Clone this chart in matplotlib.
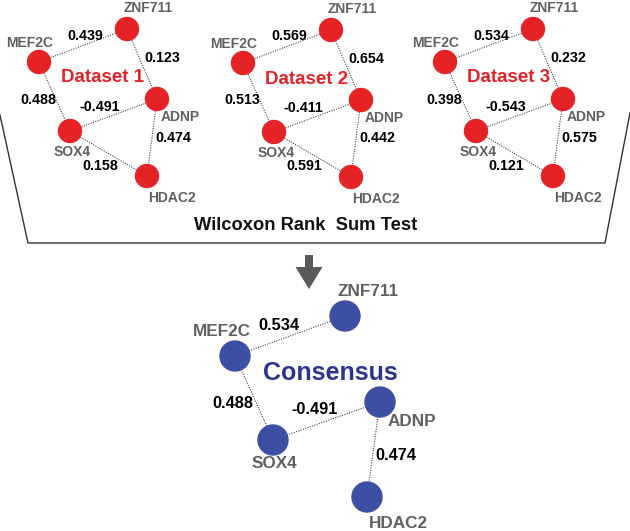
import matplotlib
matplotlib.use('Agg')
import matplotlib.pyplot as plt
from matplotlib.patches import Circle, FancyArrow

# ============== データ ==============
GENES = ['MEF2C', 'ZNF711', 'ADNP', 'SOX4', 'HDAC2']
EDGES = [('MEF2C', 'ZNF711'), ('ZNF711', 'ADNP'), ('MEF2C', 'SOX4'),
         ('SOX4', 'ADNP'), ('ADNP', 'HDAC2'), ('SOX4', 'HDAC2')]
DATASET_NAMES = ['Dataset 1', 'Dataset 2', 'Dataset 3']
DATASET1 = [0.439, 0.123, 0.488, -0.491, 0.474, 0.158]
DATASET2 = [0.569, 0.654, 0.513, -0.411, 0.442, 0.591]
DATASET3 = [0.534, 0.232, 0.398, -0.543, 0.575, 0.121]

CONSENSUS_EDGES = [('MEF2C', 'ZNF711'), ('MEF2C', 'SOX4'),
                   ('SOX4', 'ADNP'), ('ADNP', 'HDAC2')]
CONSENSUS = [0.534, 0.488, -0.491, 0.474]
TEST_NAME = 'Wilcoxon Rank  Sum Test'

# ============== レイアウト（ピクセル座標） ==============
W, H = 630, 531
NODE_POS = {'MEF2C': (39, 62), 'ZNF711': (127, 29), 'ADNP': (157, 99),
            'SOX4': (70, 131), 'HDAC2': (147, 176)}
NAME_OFFSET = {'MEF2C': (-9, -19), 'ZNF711': (21, -21), 'ADNP': (23, 18),
               'SOX4': (2, 21), 'HDAC2': (25, 22)}
EDGE_LABEL_OFFSET = [(2, -10), (20, -6), (-16, 3), (-14, -8), (21, 0), (-8, 12)]
PANEL_SHIFT = [(0, 0), (204, 1), (406, 0)]
TITLE_POS = (103, 78)

C_NODE_POS = {'MEF2C': (235, 356), 'ZNF711': (345, 316), 'ADNP': (380, 402),
              'SOX4': (273, 440), 'HDAC2': (367, 497)}
C_NAME_OFFSET = {'MEF2C': (-13, -24), 'ZNF711': (23, -25), 'ADNP': (32, 20),
                 'SOX4': (1, 24), 'HDAC2': (31, 26)}
C_EDGE_LABEL_POS = [(279, 325), (233, 403), (315, 409), (396, 456)]

RED = '#e52226'
BLUE = '#3d4fa2'
GRAY = '#606060'
SANS = ['Liberation Sans', 'DejaVu Sans']


def draw_edge(ax, p, q):
    ax.plot([p[0], q[0]], [p[1], q[1]], color='#444444', lw=0.8,
            ls=(0, (1, 1.2)), zorder=1)


def draw_panel(ax, values, shift, title):
    dx, dy = shift
    pos = {g: (x + dx, y + dy) for g, (x, y) in NODE_POS.items()}
    for (a, b), v, (ox, oy) in zip(EDGES, values, EDGE_LABEL_OFFSET):
        draw_edge(ax, pos[a], pos[b])
        mx = (pos[a][0] + pos[b][0]) / 2 + ox
        my = (pos[a][1] + pos[b][1]) / 2 + oy
        ax.text(mx, my, f'{v:.3f}', ha='center', va='center', fontsize=10.3,
                fontweight='bold', family=SANS, color='black', zorder=3)
    for g in GENES:
        x, y = pos[g]
        ax.add_patch(Circle((x, y), 11.5, color=RED, zorder=2))
        ox, oy = NAME_OFFSET[g]
        ax.text(x + ox, y + oy, g, ha='center', va='center', fontsize=10,
                fontweight='bold', family=SANS, color=GRAY, zorder=3)
    ax.text(TITLE_POS[0] + dx, TITLE_POS[1] + dy, title, ha='center', va='center',
            fontsize=13.5, fontweight='bold', family=SANS, color=RED, zorder=3)


def draw_consensus(ax):
    pos = C_NODE_POS
    for (a, b), v, (lx, ly) in zip(CONSENSUS_EDGES, CONSENSUS, C_EDGE_LABEL_POS):
        draw_edge(ax, pos[a], pos[b])
        ax.text(lx, ly, f'{v:.3f}', ha='center', va='center', fontsize=11.8,
                fontweight='bold', family=SANS, color='black', zorder=3)
    for g in GENES:
        x, y = pos[g]
        ax.add_patch(Circle((x, y), 15, color=BLUE, zorder=2))
        ox, oy = C_NAME_OFFSET[g]
        ax.text(x + ox, y + oy, g, ha='center', va='center', fontsize=12.3,
                fontweight='bold', family=SANS, color=GRAY, zorder=3)
    ax.text(330, 373, 'Consensus', ha='center', va='center', fontsize=18,
            fontweight='bold', family=SANS, color='#2b3590', zorder=3)


def main():
    fig = plt.figure(figsize=(W / 100, H / 100), dpi=100)
    ax = fig.add_axes([0, 0, 1, 1])
    ax.set_xlim(0, W)
    ax.set_ylim(H, 0)
    ax.set_aspect('equal')
    ax.axis('off')

    for values, shift, title in zip([DATASET1, DATASET2, DATASET3], PANEL_SHIFT, DATASET_NAMES):
        draw_panel(ax, values, shift, title)

    # 台形の枠
    ax.plot([0, 28, 605, 630], [115, 243, 243, 113], color='#333333', lw=1.0)
    ax.text(306, 226, TEST_NAME, ha='center', va='center', fontsize=13.2,
            fontweight='bold', family=SANS, color='#111111')

    ax.add_patch(FancyArrow(309, 255, 0, 34, width=8, head_width=27, head_length=22,
                            length_includes_head=True, color='#5a5a5a', lw=0))

    draw_consensus(ax)
    fig.savefig('out.png', dpi=100)
    plt.close(fig)


if __name__ == '__main__':
    main()
